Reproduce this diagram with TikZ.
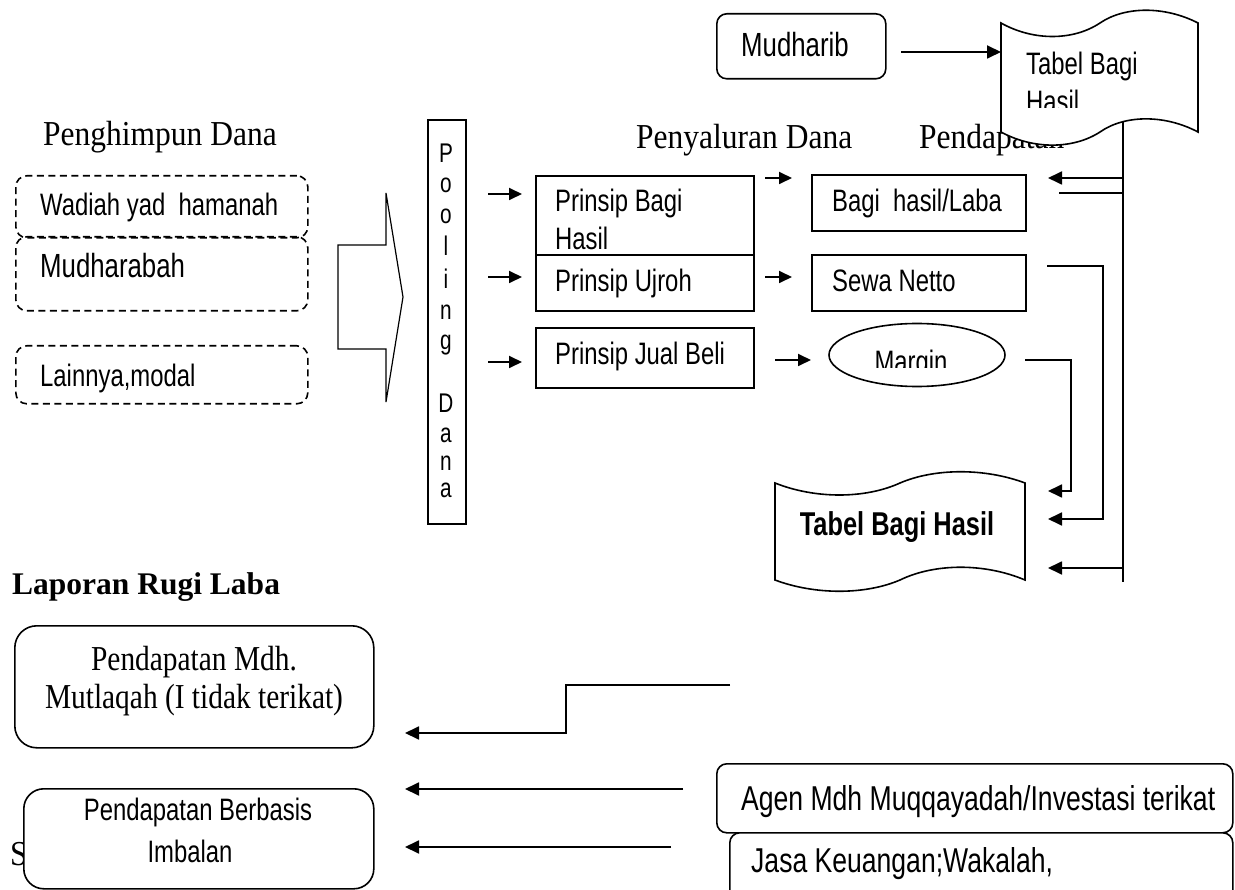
\documentclass[tikz,border=0pt]{standalone}
\usepackage{fontspec}
\usetikzlibrary{arrows.meta,shapes.geometric}
\newfontfamily\tms{Liberation Serif}[FakeStretch=0.9]
\newfontfamily\tmsn{Liberation Serif}[FakeStretch=0.84]
\newfontfamily\tmsw{Liberation Serif}
\newfontfamily\arl{Liberation Sans}[FakeStretch=0.77]
\begin{document}
\begin{tikzpicture}[x=1pt,y=-1pt,
  boxs/.style={draw, line width=1.6pt, anchor=north west, inner sep=0pt},
  dbox/.style={boxs, rounded corners=11pt, dash pattern=on 7pt off 4.5pt},
  ln/.style={line width=1.6pt},
  arr/.style={line width=1.8pt, -{Triangle[length=14pt,width=13pt]}},
  sarr/.style={line width=1.8pt, -{Triangle[length=13pt,width=12pt]}},
  tx/.style={anchor=base west, inner sep=0pt},
  txc/.style={anchor=base, inner sep=0pt},
  sf/.style={font=\arl\fontsize{31}{36}\selectfont},
  sfl/.style={font=\arl\fontsize{33.5}{38}\selectfont},
  sfx/.style={font=\arl\fontsize{34.5}{40}\selectfont},
  rm/.style={font=\tms\fontsize{35}{40}\selectfont},
  rmb/.style={font=\tmsn\fontsize{35}{40}\selectfont}
]
\useasboundingbox[fill=white] (0,0) rectangle (1235,890);

% ---------- headings ----------
\node[tx, rm] (h1) at (43,146) {Penghimpun Dana};
\node[tx, rm] (h2) at (636,149) {Penyaluran Dana};
\node[tx, rm] (h3) at (919,149) {Pendapatan};

% ---------- top: Mudharib and tape ----------
\node[boxs, rounded corners=10pt, minimum width=169pt, minimum height=65pt] (mudh) at (716,13) {};
\node[tx, sfl] (mudhtx) at (741,57) {Mudharib};
\draw[line width=1.6pt, fill=white] (1001,23) .. controls (1033,41) and (1073,41) .. (1100,23)
  .. controls (1125,6) and (1165,6) .. (1198,23) -- (1198,132)
  .. controls (1165,114.5) and (1125,114.5) .. (1100,132)
  .. controls (1073,149.5) and (1033,149.5) .. (1001,132) -- cycle;
\coordinate (tapeA) at (1100,77);
\coordinate (tapeAin) at (1001,52);
\coordinate (mudhout) at (901,52);
\node[tx, sf] (tapeAtx) at (1026,75) {Tabel Bagi};
\begin{scope}
  \clip (1010,80) rectangle (1190,108);
  \node[tx, sf] (tapeAtx2) at (1026,113) {Hasil};
\end{scope}
\draw[arr] (mudhout) -- (tapeAin);

% ---------- left dashed boxes ----------
\node[dbox, minimum width=292pt, minimum height=62pt] (wad) at (15,175) {};
\node[dbox, minimum width=292pt, minimum height=74pt] (mdr) at (15,236) {};
\node[dbox, minimum width=292pt, minimum height=58pt] (lain) at (15,345) {};
\node[tx, sf] (wadtx) at (40,216) {Wadiah yad\ \ hamanah};
\node[tx, sfl] (mdrtx) at (40,278) {Mudharabah};
\node[tx, sf] (laintx) at (40,387) {Lainnya,modal};

% block arrow
\draw[line width=1.2pt] (338,245) -- (386,245) -- (386,193) -- (403,297) -- (386,402)
  -- (386,349) -- (338,349) -- cycle;
\coordinate (blk) at (370,297);

% ---------- pooling ----------
\node[boxs, minimum width=38pt, minimum height=404pt] (pool) at (427,119) {};
\foreach \l/\yy in {P/163,o/193,o/224,l/256,i/289,n/320,g/350,D/413,a/443,n/471,a/498}
  \node[txc, font=\arl\fontsize{27}{30}\selectfont] (pl\yy) at (446,\yy) {\l};

% ---------- prinsip boxes ----------
\node[boxs, minimum width=218pt, minimum height=79pt] (pbh) at (535,175) {};
\node[boxs, minimum width=218pt, minimum height=56pt] (puj) at (535,254) {};
\node[boxs, minimum width=218pt, minimum height=60pt] (pjb) at (535,327) {};
\node[tx, sf] (pbhtx) at (555,212) {Prinsip Bagi};
\node[tx, sf] (pbhtx2) at (555,250) {Hasil};
\node[tx, sf] (pujtx) at (555,292) {Prinsip Ujroh};
\node[tx, sf] (pjbtx) at (555,365) {Prinsip Jual Beli};

\coordinate (a1s) at (488,194); \coordinate (a1e) at (522,194);
\coordinate (a2s) at (488,277); \coordinate (a2e) at (522,277);
\coordinate (a3s) at (488,362); \coordinate (a3e) at (522,362);
\draw[sarr] (a1s) -- (a1e);
\draw[sarr] (a2s) -- (a2e);
\draw[sarr] (a3s) -- (a3e);

% ---------- results ----------
\node[boxs, minimum width=214pt, minimum height=56pt] (bhl) at (811,174) {};
\node[boxs, minimum width=214pt, minimum height=56pt] (swn) at (811,254) {};
\node[draw, line width=1.6pt, ellipse, minimum width=176pt, minimum height=63pt, inner sep=0pt] (mar) at (917,355) {};
\node[tx, sf] (bhltx) at (832,212) {Bagi\ \ hasil/Laba};
\node[tx, sf] (swntx) at (832,292) {Sewa Netto};
\begin{scope}
  \clip (830,330) rectangle (1000,368);
  \node[txc, sf] (martx) at (911,373) {Margin};
\end{scope}

\coordinate (b1s) at (765,178); \coordinate (b1e) at (792,178);
\coordinate (b2s) at (765,277); \coordinate (b2e) at (792,277);
\coordinate (b3s) at (775,360); \coordinate (b3e) at (811,360);
\draw[sarr] (b1s) -- (b1e);
\draw[sarr] (b2s) -- (b2e);
\draw[sarr] (b3s) -- (b3e);

% ---------- lower tape ----------
\draw[line width=1.6pt] (775,483) .. controls (815,499) and (865,499) .. (900,483)
  .. controls (935,468) and (985,468) .. (1025,483) -- (1025,580)
  .. controls (985,563) and (935,563) .. (900,580)
  .. controls (865,595) and (815,595) .. (775,580) -- cycle;
\coordinate (tapeB) at (900,530);
\node[txc, font=\arl\bfseries\fontsize{33}{38}\selectfont] (tapeBtx) at (897,536) {Tabel Bagi Hasil};

% ---------- right connectors ----------
\coordinate (vtop) at (1123,122); \coordinate (vbot) at (1123,582);
\draw[ln] (vtop) -- (vbot);
\coordinate (r1s) at (1123,178); \coordinate (r1e) at (1048,178);
\draw[arr] (r1s) -- (r1e);
\coordinate (r2s) at (1059,193); \coordinate (r2e) at (1123,193);
\draw[ln] (r2s) -- (r2e);
\coordinate (s1) at (1047,266); \coordinate (s2) at (1103,266);
\coordinate (s3) at (1103,519); \coordinate (s4) at (1048,519);
\draw[arr] (s1) -- (s2) -- (s3) -- (s4);
\coordinate (m1) at (1025,360); \coordinate (m2) at (1071,360);
\coordinate (m3) at (1071,491); \coordinate (m4) at (1048,491);
\draw[arr] (m1) -- (m2) -- (m3) -- (m4);
\coordinate (r3s) at (1123,568); \coordinate (r3e) at (1048,568);
\draw[arr] (r3s) -- (r3e);

% ---------- laporan rugi laba ----------
\node[tx, font=\tmsw\bfseries\fontsize{31.5}{36}\selectfont] (lap) at (12,594) {Laporan Rugi Laba};
\node[boxs, rounded corners=22pt, minimum width=359pt, minimum height=122pt] (pmdh) at (14,625) {};
\node[txc, rmb] (pmdhtx1) at (194,670) {Pendapatan Mdh.};
\node[txc, rmb] (pmdhtx2) at (194,708) {Mutlaqah (I tidak terikat)};

\node[tx, rm] (stx) at (10,865) {S};
\node[boxs, rounded corners=20pt, fill=white, minimum width=350pt, minimum height=100pt] (pbb) at (23,788) {};
\node[txc, sf] (pbbtx1) at (198,820) {Pendapatan Berbasis};
\node[txc, sf] (pbbtx2) at (190,862) {Imbalan};

\node[boxs, rounded corners=10pt, minimum width=516pt, minimum height=69pt] (agen) at (716,763) {};
\node[boxs, rounded corners=10pt, fill=white, minimum width=503pt, minimum height=90pt] (jasa) at (729,832) {};
\node[tx, sfx] (agentx) at (741,810) {Agen Mdh Muqqayadah/Investasi terikat};
\node[tx, sfx] (jasatx) at (751,872) {Jasa Keuangan;Wakalah,};

\coordinate (l1) at (730,685); \coordinate (l2) at (566,685);
\coordinate (l3) at (566,733); \coordinate (l4) at (405,733);
\draw[arr] (l1) -- (l2) -- (l3) -- (l4);
\coordinate (l5) at (683,789); \coordinate (l6) at (405,789);
\draw[arr] (l5) -- (l6);
\coordinate (l7) at (671,847); \coordinate (l8) at (405,847);
\draw[arr] (l7) -- (l8);
\end{tikzpicture}
\end{document}
